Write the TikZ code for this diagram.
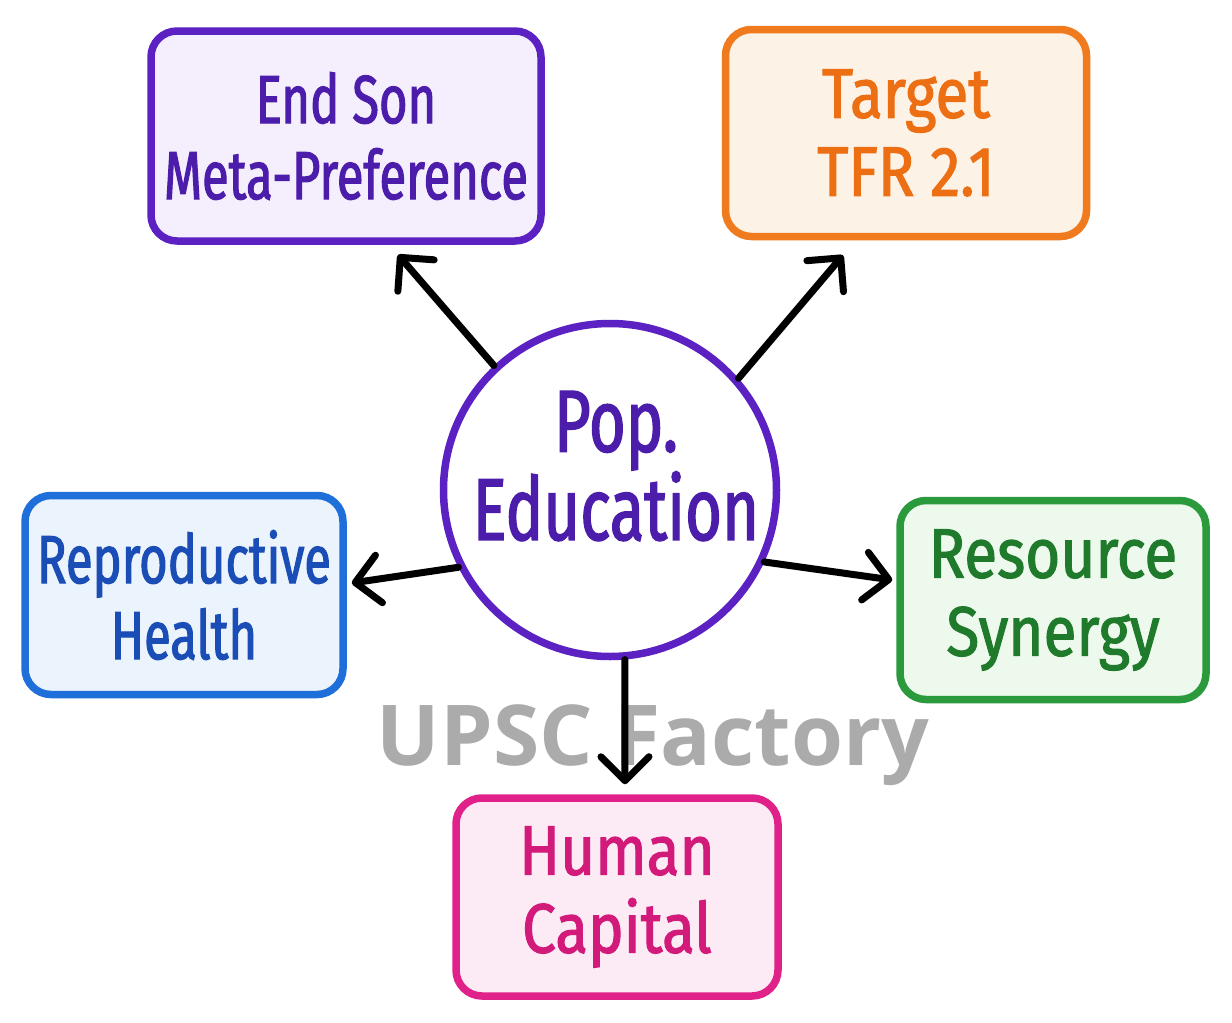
\documentclass[tikz,border=0pt]{standalone}
\usepackage{fontspec}
\setmainfont{Fira Sans}
\newfontfamily\hand[FakeStretch=0.72,FakeBold=1.6]{Fira Sans}
\newfontfamily\handwide[FakeStretch=0.86,FakeBold=1.6]{Fira Sans}
\newfontfamily\wmfont{Open Sans}
\usetikzlibrary{arrows.meta,calc}
\definecolor{pB}{HTML}{5B21C2}\definecolor{pF}{HTML}{F4EEFD}\definecolor{pT}{HTML}{4B1DAA}
\definecolor{oB}{HTML}{F07A1E}\definecolor{oF}{HTML}{FDF2E6}\definecolor{oT}{HTML}{EC6F14}
\definecolor{bB}{HTML}{1E6FD9}\definecolor{bF}{HTML}{EBF3FC}\definecolor{bT}{HTML}{1A4DB5}
\definecolor{gB}{HTML}{2A9A3C}\definecolor{gF}{HTML}{EDF9EC}\definecolor{gT}{HTML}{1F7A2C}
\definecolor{mB}{HTML}{E0218A}\definecolor{mF}{HTML}{FCEAF4}\definecolor{mT}{HTML}{D21A7A}
\tikzset{
  lbl/.style={font=\hand\fontsize{68}{76}\selectfont, align=center},
  lblwide/.style={font=\handwide\fontsize{70}{78}\selectfont},
  card/.style={lbl, rectangle, rounded corners=26pt, line width=7.5pt, inner sep=0pt},
  arr/.style={line width=7pt, line cap=round, -{Straight Barb[length=24pt, width=48pt, round]}},
}
\begin{document}
\begin{tikzpicture}[x=1pt,y=-1pt]
\fill[white] (0,0) rectangle (1232,1023);
\useasboundingbox (0,0) rectangle (1232,1023);
\node[card, draw=pB, fill=pF, text=pT, minimum width=390pt, minimum height=210pt] (A) at (346,136) {End Son\\Meta-Preference};
\node[card, lblwide, draw=oB, fill=oF, text=oT, minimum width=361pt, minimum height=207pt] (B) at (906,133) {Target\\TFR 2.1};
\node[card, draw=bB, fill=bF, text=bT, minimum width=318pt, minimum height=199pt] (D) at (184,595) {Reproductive\\Health};
\node[card, lblwide, draw=gB, fill=gF, text=gT, minimum width=306pt, minimum height=199pt] (E) at (1053,600) {Resource\\Synergy};
\node[card, lblwide, draw=mB, fill=mF, text=mT, minimum width=322pt, minimum height=198pt] (F) at (617,897) {Human\\Capital};
\node[circle, draw=pB, fill=white, line width=7.5pt, minimum size=333pt, inner sep=0pt] (C) at (610,490) {};
\node[font=\hand\fontsize{88}{86}\selectfont, align=center, text=pT] (Ct) at (616,466) {Pop.\\Education};
\node[font=\wmfont\bfseries\fontsize{84}{84}\selectfont, text=black!33, anchor=base] (W) at (653,765) {UPSC Factory};
\draw[arr] (C.133) -- ($(A.south)+(52,10)$);
\draw[arr] (C.41) -- ($(B.south)+(-63,15)$);
\draw[arr] (C.207) -- ($(D.east)+(5,-12)$);
\draw[arr] (C.335) -- ($(E.west)+(-4,-20)$);
\draw[arr] (C.275) -- ($(F.north)+(8,-10)$);
\end{tikzpicture}
\end{document}
